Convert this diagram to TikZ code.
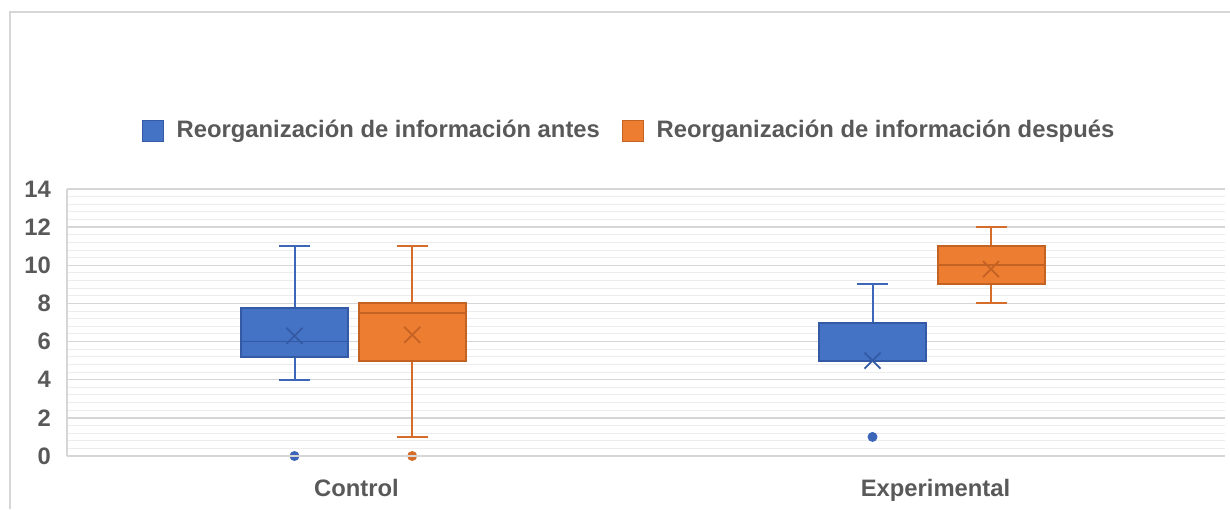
\documentclass[tikz,border=0pt]{standalone}
\usepackage{fontspec}
\setmainfont{Liberation Sans}
\usetikzlibrary{positioning}
\definecolor{boxblue}{RGB}{68,114,196}
\definecolor{edgeblue}{RGB}{52,90,165}
\definecolor{whiskblue}{RGB}{62,102,184}
\definecolor{boxorange}{RGB}{237,125,49}
\definecolor{edgeorange}{RGB}{196,98,36}
\definecolor{whiskorange}{RGB}{214,108,42}
\definecolor{txtgray}{RGB}{89,89,89}
\definecolor{gridgray}{RGB}{214,214,214}
\definecolor{gridlight}{RGB}{236,236,236}

% one box of the chart: #1 series, #2 x, #3 low, #4 q1, #5 median, #6 q3, #7 high, #8 mean
\newcommand{\drawbox}[8]{%
  \draw[#1whisk] (#2,#3) -- (#2,#4) (#2,#6) -- (#2,#7);
  \draw[#1whisk] (#2-15.5,#3) -- (#2+15.5,#3) (#2-15.5,#7) -- (#2+15.5,#7);
  \draw[#1box] (#2-53.5,#4) rectangle (#2+53.5,#6);
  \draw[#1edge] (#2-53.5,#5) -- (#2+53.5,#5);
  \draw[#1edge] ([shift={(-8pt,-8pt)}]#2,#8) -- ([shift={(8pt,8pt)}]#2,#8)
                ([shift={(-8pt,8pt)}]#2,#8) -- ([shift={(8pt,-8pt)}]#2,#8);
}

\begin{document}
\begin{tikzpicture}[
    x=1pt, y=1pt,
    major/.style={draw=gridgray, line width=1.4pt},
    minor/.style={draw=gridlight, line width=1pt},
    tick/.style={text=txtgray, font=\fontsize{23.8}{28}\selectfont\bfseries, inner sep=0pt},
    catlabel/.style={tick, anchor=base},
    legsq/.style={minimum size=21pt, inner sep=0pt, line width=1pt},
    legtxt/.style={tick, anchor=west},
    bluebox/.style={fill=boxblue, draw=edgeblue, line width=2pt},
    blueedge/.style={draw=edgeblue, line width=1.8pt},
    bluewhisk/.style={draw=whiskblue, line width=2pt},
    bluedot/.style={fill=whiskblue},
    orangebox/.style={fill=boxorange, draw=edgeorange, line width=2pt},
    orangeedge/.style={draw=edgeorange, line width=1.8pt},
    orangewhisk/.style={draw=whiskorange, line width=2pt},
    orangedot/.style={fill=whiskorange}
]
\useasboundingbox (0,0) rectangle (1230,509);

% chart frame
\draw[draw=gridgray, line width=1.2pt] (10,0) -- (10,497) -- (1230,497);

% legend
\node[legsq, fill=boxblue, draw=edgeblue] (legBefore) at (152.5,377.5) {};
\node[legtxt, right=13pt of legBefore] (legBeforeTxt) {Reorganización de información antes};
\node[legsq, fill=boxorange, draw=edgeorange] (legAfter) at (632.5,377.5) {};
\node[legtxt, right=13pt of legAfter] (legAfterTxt) {Reorganización de información después};

% plot area
\begin{scope}[shift={(67,53)}, y=19.07pt]
  % grid
  \foreach \i in {1,...,34} \draw[minor] (0,\i*0.4) -- (1158,\i*0.4);
  \foreach \v in {2,4,...,14} \draw[major] (0,\v) -- (1158,\v);
  \draw[major] (0,0) -- (0,14);
  \foreach \v in {0,2,...,14} \node[tick, anchor=east] (tick\v) at (-16,\v) {\v};

  % Control
  \drawbox{blue}{227.5}{4}{5.2}{6}{7.75}{11}{6.3}
  \drawbox{orange}{345.2}{1}{5}{7.5}{8}{11}{6.35}
  \fill[bluedot] (227.5,0) circle (5pt);
  \fill[orangedot] (345.2,0) circle (5pt);

  % Experimental
  \drawbox{blue}{805.5}{5}{5}{5}{7}{9}{5}
  \drawbox{orange}{924}{8}{9}{10}{11}{12}{9.8}
  \fill[bluedot] (805.5,1) circle (5pt);

  % axis line
  \draw[major] (0,0) -- (1158,0);
\end{scope}

% categories
\node[catlabel] (catControl) at (356.5,12.5) {Control};
\node[catlabel] (catExperimental) at (935.5,12.5) {Experimental};

\end{tikzpicture}
\end{document}
